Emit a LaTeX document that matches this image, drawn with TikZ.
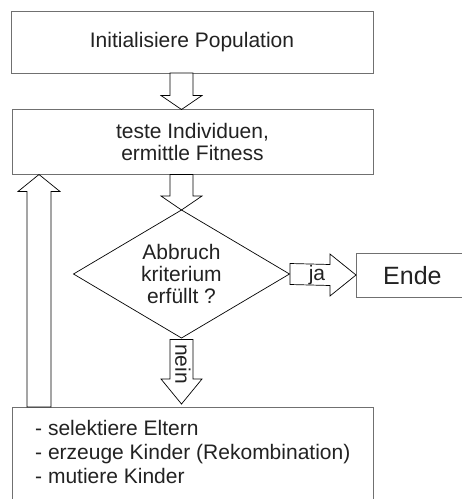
\documentclass[tikz,border=0pt]{standalone}
\usepackage{fontspec}
\setmainfont{Liberation Sans}
\usetikzlibrary{calc,shapes.geometric}
\definecolor{boxline}{HTML}{707070}
\definecolor{txt}{HTML}{222222}
\tikzset{
  box/.style={draw=boxline, line width=1pt, fill=white, inner sep=0pt, outer sep=0pt, text=txt},
  blk/.style={draw=black, line width=0.7pt, fill=white, line join=miter},
  lbl/.style={text=txt, inner sep=0pt, font=\fontsize{21}{23}\selectfont}
}
\newcommand\blkdown[4]{% start, end, head length, head half-width
  \draw[blk] ($(#1)+(-11.5,0)$) -- ($(#2)+(-11.5,-#3)$) -- ($(#2)+(-#4,-#3)$) -- (#2)
    -- ($(#2)+(#4,-#3)$) -- ($(#2)+(11.5,-#3)$) -- ($(#1)+(11.5,0)$) -- cycle;}
\begin{document}
\begin{tikzpicture}[x=1pt,y=-1pt]
\useasboundingbox (0,0) rectangle (462,499);
\clip (0,0) rectangle (462,499);
\fill[white] (0,0) rectangle (462,499);

% boxes
\node[box, minimum width=362, minimum height=62, font=\fontsize{21}{23}\selectfont] (init) at (192,42) {Initialisiere Population};
\node[box, minimum width=361, minimum height=65, align=center, font=\fontsize{21}{21.5}\selectfont] (test) at (192.5,142) {teste Individuen,\\ermittle Fitness};
\node[box, minimum width=361, minimum height=120] (ops) at (192.5,467) {};
\node[lbl, anchor=north west, align=left, font=\fontsize{21}{24}\selectfont] (opstext) at (35,420) {- selektiere Eltern\\- erzeuge Kinder (Rekombination)\\- mutiere Kinder};
\node[box, minimum width=120, minimum height=44] (ende) at (416,275) {};
\node[lbl, font=\fontsize{25}{27}\selectfont, anchor=west] (endetext) at (383,275.5) {Ende};

% decision
\node[box, draw=black, line width=0.7pt, diamond, minimum width=216, minimum height=128, shape aspect=1.6875, align=center, font=\fontsize{21}{22}\selectfont] (crit) at (181.5,274) {Abbruch\\kriterium\\erfüllt ?};

% arrows
\coordinate (a1s) at (init.south -| 181.5,0);
\coordinate (a1e) at (test.north -| 181.5,0);
\blkdown{a1s}{a1e}{14}{20.5}
\coordinate (a2s) at (test.south -| 181.5,0);
\blkdown{a2s}{crit.north}{14}{20.5}
\coordinate (a3e) at (ops.north -| 181.5,0);
\coordinate (a3t) at ($(a3e)+(0,-3)$);
\coordinate (a3s) at ($(crit.south)+(0,1.5)$);
\blkdown{a3s}{a3t}{25}{20.5}
\node[lbl, rotate=-90] (nein) at (183,364) {nein};

% back loop (up arrow)
\coordinate (ups) at (ops.north -| 39,0);
\coordinate (upe) at (test.south -| 39,0);
\draw[blk] ($(ups)+(-12,0)$) -- ($(upe)+(-12,17)$) -- ($(upe)+(-21,17)$) -- (upe)
  -- ($(upe)+(21,17)$) -- ($(upe)+(12,17)$) -- ($(ups)+(12,0)$) -- cycle;

% ja arrow
\coordinate (jt) at (ende.west);
\coordinate (js) at ($(crit.east)+(0.5,0)$);
\draw[blk] ($(js)+(0,-10.5)$) -- ($(jt)+(-26,-10.5)$) -- ($(jt)+(-26,-21)$) -- (jt)
  -- ($(jt)+(-26,21)$) -- ($(jt)+(-26,10.5)$) -- ($(js)+(0,10.5)$) -- cycle;
\node[lbl] (ja) at (317,275) {ja};
\end{tikzpicture}
\end{document}
